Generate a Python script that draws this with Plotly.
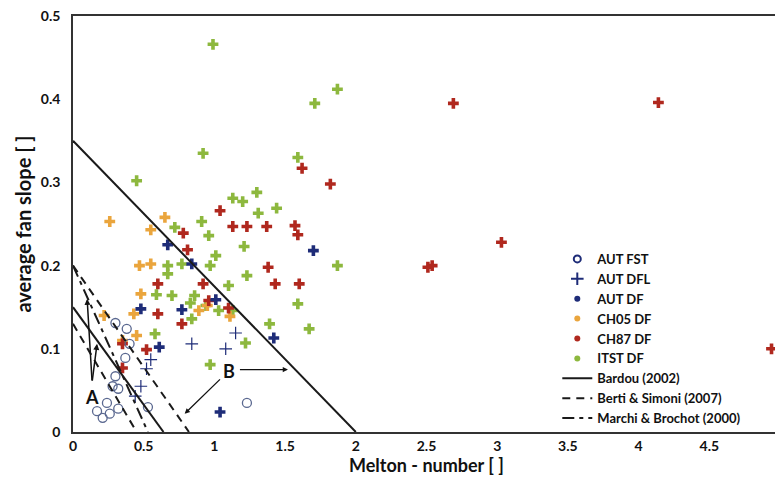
import plotly.graph_objects as go

# ---------------- data ----------------
itst_x = [0.99, 0.92, 0.45, 1.71, 1.87, 1.59, 1.13, 1.20, 1.30, 1.31, 1.44, 0.72, 0.91, 0.96,
          1.01, 0.67, 0.67, 0.77, 0.97, 0.59, 0.70, 0.86, 0.83, 0.94, 1.03, 1.10, 1.21, 1.23,
          1.13, 1.87, 1.59, 1.39, 1.67, 1.22, 0.97, 0.58, 0.84]
itst_y = [0.466, 0.335, 0.302, 0.395, 0.412, 0.330, 0.281, 0.277, 0.288, 0.263, 0.269, 0.246, 0.253, 0.236,
          0.212, 0.200, 0.190, 0.202, 0.200, 0.165, 0.164, 0.164, 0.155, 0.152, 0.146, 0.176, 0.223, 0.188,
          0.146, 0.200, 0.154, 0.130, 0.124, 0.107, 0.081, 0.118, 0.136]

ch87_x = [2.69, 4.14, 1.62, 1.82, 3.03, 4.94, 2.51, 2.54, 1.04, 1.13, 1.23, 1.37, 1.57, 1.59,
          1.38, 1.43, 1.60, 0.78, 0.81, 0.60, 0.92, 0.60, 0.96, 1.10, 0.52, 0.35, 0.35, 0.77]
ch87_y = [0.395, 0.396, 0.317, 0.298, 0.228, 0.100, 0.198, 0.200, 0.266, 0.247, 0.247, 0.247, 0.248, 0.237,
          0.198, 0.178, 0.178, 0.239, 0.219, 0.178, 0.178, 0.142, 0.158, 0.149, 0.099, 0.106, 0.077, 0.130]

ch05_x = [0.26, 0.65, 0.55, 0.47, 0.55, 0.48, 0.43, 0.22, 0.89, 0.95, 1.11, 0.35, 0.45]
ch05_y = [0.253, 0.258, 0.243, 0.200, 0.202, 0.166, 0.142, 0.140, 0.146, 0.152, 0.139, 0.110, 0.116]

autdf_x = [1.70, 1.42, 0.67, 0.84, 1.01, 0.48, 0.77, 0.61, 1.04]
autdf_y = [0.218, 0.113, 0.225, 0.202, 0.159, 0.148, 0.147, 0.102, 0.024]

autdfl_x = [1.15, 0.84, 1.08, 0.55, 0.52, 0.48, 0.44]
autdfl_y = [0.119, 0.106, 0.100, 0.087, 0.076, 0.055, 0.043]

autfst_x = [0.30, 0.38, 0.40, 0.37, 0.30, 0.28, 0.32, 0.24, 0.17, 0.26, 0.32, 0.53, 1.23, 0.21]
autfst_y = [0.131, 0.124, 0.106, 0.089, 0.067, 0.055, 0.052, 0.035, 0.025, 0.022, 0.028, 0.030, 0.035, 0.017]

# threshold lines (A: lower, B: upper)
bardou_b_x, bardou_b_y = [0, 2.0], [0.35, 0]
bardou_a_x, bardou_a_y = [0, 0.64], [0.15, 0]
berti_b_x, berti_b_y = [0, 0.82], [0.20, 0]
berti_a_x, berti_a_y = [0, 0.45], [0.13, 0]
marchi_a_x, marchi_a_y = [0, 0.53], [0.20, 0]

x_ticks = [0, 0.5, 1, 1.5, 2, 2.5, 3, 3.5, 4, 4.5, 5]
x_tick_text = ["0", "0.5", "1", "1.5", "2", "2.5", "3", "3.5", "4", "4.5", "5"]
y_ticks = [0, 0.1, 0.2, 0.3, 0.4, 0.5]
y_tick_text = ["0", "0.1", "0.2", "0.3", "0.4", "0.5"]

# ---------------- styling ----------------
FONT = "Lato, 'Open Sans', sans-serif"
C_ITST = "#8DB83E"
C_CH87 = "#B0281E"
C_CH05 = "#EAA53D"
C_AUT = "#1E2C78"
C_FST = "#5A6890"

fig = go.Figure()

line_specs = [
    (bardou_b_x, bardou_b_y, "solid", "Bardou (2002)", True),
    (bardou_a_x, bardou_a_y, "solid", "Bardou (2002)", False),
    (berti_b_x, berti_b_y, "8px,6px", "Berti & Simoni (2007)", True),
    (berti_a_x, berti_a_y, "8px,6px", "Berti & Simoni (2007)", False),
    (marchi_a_x, marchi_a_y, "12px,5px,4px,5px", "Marchi & Brochot (2000)", True),
]


def pts(x, y, color, symbol, size, lw=0):
    fig.add_trace(go.Scatter(
        x=x, y=y, mode="markers", showlegend=False, hoverinfo="x+y",
        marker=dict(color=color, symbol=symbol, size=size,
                    line=dict(width=lw, color=color))))


pts(itst_x, itst_y, C_ITST, "cross", 9)
pts(ch05_x, ch05_y, C_CH05, "cross", 9)
pts(ch87_x, ch87_y, C_CH87, "cross", 9)
pts(autdf_x, autdf_y, C_AUT, "cross", 9)
pts(autdfl_x, autdfl_y, C_AUT, "cross-thin-open", 9, 1.2)
pts(autfst_x, autfst_y, C_FST, "circle-open", 9, 1.3)

# legend entries (symbols as shown in the reference legend)
leg = [
    ("AUT FST", "circle-open", C_AUT, 7, 2),
    ("AUT DFL", "cross-thin-open", C_AUT, 9, 2),
    ("AUT DF", "circle", C_AUT, 6, 0),
    ("CH05 DF", "circle", C_CH05, 6, 0),
    ("CH87 DF", "circle", C_CH87, 6, 0),
    ("ITST DF", "circle", C_ITST, 6, 0),
]
for name, sym, col, sz, lw in leg:
    fig.add_trace(go.Scatter(x=[None], y=[None], mode="markers", name=name,
                             marker=dict(symbol=sym, color=col, size=sz,
                                         line=dict(width=lw, color=col))))

for x, y, dash, name, show in line_specs:
    fig.add_trace(go.Scatter(x=x, y=y, mode="lines", name=name, showlegend=show,
                             line=dict(color="#1a1a1a", width=2, dash=dash),
                             hoverinfo="skip"))

# annotations A and B
ann_font = dict(family=FONT, size=18, color="#111", weight="bold")
fig.add_annotation(x=0.135, y=0.042, text="A", showarrow=False, font=ann_font)
for tx, ty in [(0.10, 0.160), (0.17, 0.106)]:
    fig.add_annotation(x=tx, y=ty, ax=0.135, ay=0.060, axref="x", ayref="y",
                       xref="x", yref="y", text="", showarrow=True,
                       arrowhead=2, arrowsize=0.8, arrowwidth=1.5, arrowcolor="#111")
fig.add_annotation(x=1.10, y=0.073, text="B", showarrow=False, font=ann_font)
fig.add_annotation(x=0.79, y=0.022, ax=1.05, ay=0.065, axref="x", ayref="y",
                   xref="x", yref="y", text="", showarrow=True,
                   arrowhead=2, arrowsize=0.8, arrowwidth=1.3, arrowcolor="#111")
fig.add_annotation(x=1.52, y=0.075, ax=1.17, ay=0.075, axref="x", ayref="y",
                   xref="x", yref="y", text="", showarrow=True,
                   arrowhead=2, arrowsize=0.8, arrowwidth=1.3, arrowcolor="#111")

# the page body has an 8px default margin, so the figure is sized to fit the window
tick_font = dict(family=FONT, size=14, color="#111", weight="bold")
fig.update_layout(
    width=775, height=481,
    margin=dict(l=65, r=3, t=8, b=57),
    paper_bgcolor="white", plot_bgcolor="white",
    font=dict(family=FONT, color="#111"),
    legend=dict(x=0.685, y=0.452, xanchor="left", yanchor="top",
                bgcolor="rgba(0,0,0,0)", borderwidth=0,
                font=dict(family=FONT, size=13, color="#111", weight="bold"),
                tracegroupgap=0, itemwidth=30),
    xaxis=dict(range=[0, 5], tickvals=x_ticks, ticktext=x_tick_text,
               showgrid=False, zeroline=False, showline=True, mirror=True,
               linecolor="#333", linewidth=1.5, ticks="", tickfont=tick_font,
               automargin=False, ticklabeloverflow="allow",
               title=dict(text="Melton - number [ ]", standoff=6,
                          font=dict(family=FONT, size=18, color="#111", weight="bold"))),
    yaxis=dict(range=[0, 0.5], tickvals=y_ticks, ticktext=y_tick_text,
               showgrid=False, zeroline=False, showline=True, mirror=True,
               linecolor="#333", linewidth=1.5, ticks="", tickfont=tick_font,
               ticklabelstandoff=8, automargin=False, ticklabeloverflow="allow",
               title=dict(text="average fan slope [ ]", standoff=4,
                          font=dict(family=FONT, size=20, color="#111", weight="bold"))),
)

fig.write_html("out.html")
